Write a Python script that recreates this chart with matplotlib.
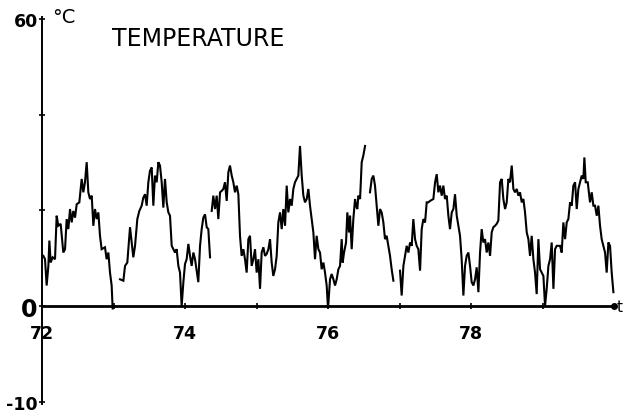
import numpy as np
import matplotlib
matplotlib.use("Agg")
import matplotlib.pyplot as plt

# temperature record (years 72..80, deg C)
# gaps in the record are marked with None
years = [
    72.019, 72.042, 72.065, 72.089, 72.103, 72.121, 72.149, 72.182, 72.205, 72.228,
    72.261, 72.298, 72.322, 72.345, 72.368, 72.392, 72.415, 72.438, 72.462, 72.485,
    72.522, 72.555, 72.578, 72.601, 72.625, 72.648, 72.671, 72.695, 72.718, 72.741,
    72.765, 72.788, 72.811, 72.834, 72.881, 72.904, 72.928, 72.951, 72.974, 72.988,
    None,
    73.091, 73.138, 73.161, 73.193, 73.231, 73.254, 73.277, 73.301, 73.333, 73.361,
    73.394, 73.417, 73.441, 73.464, 73.487, 73.510, 73.534, 73.557, 73.580, 73.604,
    73.627, 73.650, 73.674, 73.697, 73.720, 73.744, 73.767, 73.790, 73.814, 73.837,
    73.860, 73.883, 73.907, 73.930, 73.953, 73.977, 74.000, 74.023, 74.047, 74.070,
    74.093, 74.117, 74.140, 74.163, 74.186, 74.210, 74.233, 74.256, 74.280, 74.303,
    74.326, 74.350,
    None,
    74.373, 74.396, 74.420, 74.443, 74.466, 74.490, 74.513, 74.536, 74.559, 74.583,
    74.606, 74.629, 74.653, 74.676, 74.699, 74.723, 74.746, 74.769, 74.792, 74.816,
    74.839, 74.862, 74.886, 74.909, 74.932, 74.956, 74.979, 75.002, 75.026, 75.049,
    75.072, 75.096, 75.119, 75.142, 75.166, 75.189, 75.212, 75.235, 75.259, 75.282,
    75.305, 75.329, 75.352, 75.375, 75.399, 75.422, 75.445, 75.469, 75.492, 75.515,
    75.538, 75.562, 75.585, 75.608, 75.632, 75.655, 75.678, 75.702, 75.725, 75.748,
    75.772, 75.795, 75.818, 75.841, 75.865, 75.888, 75.911, 75.935, 75.958, 75.981,
    76.000, 76.028, 76.051, 76.075, 76.098, 76.121, 76.145, 76.168, 76.191, 76.205,
    76.224, 76.252, 76.270, 76.294, 76.308, 76.331, 76.354, 76.378, 76.392, 76.410,
    76.424, 76.448, 76.471, 76.494, 76.518,
    None,
    76.587, 76.611, 76.634, 76.657, 76.680, 76.704, 76.727, 76.750, 76.774, 76.797,
    76.820, 76.844, 76.867, 76.890, 76.914,
    None,
    77.007, 77.030, 77.054, 77.077, 77.100, 77.124, 77.147, 77.170, 77.193, 77.217,
    77.240, 77.263, 77.287, 77.310, 77.333, 77.357, 77.380, 77.403, 77.427, 77.473,
    77.497, 77.520, 77.543, 77.566, 77.590, 77.613, 77.636, 77.660, 77.683, 77.706,
    77.730, 77.753, 77.776, 77.800, 77.823, 77.846, 77.869, 77.893, 77.916, 77.939,
    77.963, 77.986, 78.009, 78.033, 78.056, 78.079, 78.103, 78.126, 78.149, 78.172,
    78.196, 78.219, 78.242, 78.266, 78.289, 78.312, 78.336, 78.359, 78.382, 78.406,
    78.429, 78.452, 78.476, 78.499, 78.522, 78.545, 78.569, 78.592, 78.615, 78.639,
    78.662, 78.685, 78.709, 78.732, 78.755, 78.779, 78.802, 78.825, 78.848, 78.872,
    78.895, 78.918, 78.942, 78.965, 78.988, 79.012, 79.035, 79.058, 79.082, 79.105,
    79.128, 79.152, 79.175, 79.198, 79.245, 79.268, 79.291, 79.315, 79.338, 79.361,
    79.385, 79.408, 79.431, 79.455, 79.478, 79.501, 79.524, 79.548, 79.571, 79.585,
    79.604, 79.632, 79.664, 79.688, 79.711, 79.734, 79.758, 79.781, 79.804, 79.827,
    79.851, 79.874, 79.897, 79.921, 79.944, 79.967, 79.991,
]

temps = [
    10.5, 9.8, 4.3, 8.4, 13.7, 9.1, 10.2, 9.8, 18.9, 16.8,
    17.2, 11.2, 11.9, 18.2, 16.1, 20.3, 17.5, 19.9, 18.5, 21.3,
    21.7, 26.6, 23.8, 25.9, 30.1, 23.8, 22.4, 23.1, 16.8, 20.3,
    18.2, 19.6, 14.7, 11.9, 12.3, 9.8, 11.2, 7.0, 4.3, -0.5,
    None,
    5.6, 5.3, 8.4, 9.1, 16.5, 13.3, 10.2, 12.6, 18.2, 19.9,
    21.0, 22.7, 23.4, 21.0, 25.9, 28.3, 29.0, 21.0, 27.3, 25.9,
    30.1, 29.4, 25.9, 20.6, 26.6, 21.7, 19.6, 18.9, 12.6, 11.9,
    11.2, 11.9, 8.4, 7.0, 0.0, 5.0, 8.8, 9.8, 13.0, 10.5,
    8.4, 11.2, 9.8, 7.4, 5.0, 12.6, 16.1, 18.5, 19.2, 16.5,
    16.1, 10.2,
    None,
    19.9, 23.1, 20.3, 23.1, 18.2, 23.8, 24.1, 24.5, 25.9, 22.0,
    28.0, 29.4, 27.3, 25.9, 23.8, 25.2, 23.4, 14.7, 10.5, 11.9,
    9.8, 7.0, 14.0, 14.7, 8.4, 9.8, 11.9, 7.0, 9.8, 3.6,
    11.2, 12.3, 10.5, 10.9, 11.9, 14.0, 9.1, 6.3, 7.7, 10.5,
    17.5, 19.6, 16.1, 20.3, 16.8, 25.2, 19.6, 22.4, 21.0, 24.5,
    25.9, 26.6, 27.3, 33.5, 27.3, 23.1, 21.7, 22.4, 24.5, 21.0,
    18.2, 15.4, 9.8, 14.7, 11.9, 11.2, 7.7, 9.1, 7.0, 4.3,
    -0.5, 5.6, 6.7, 5.6, 4.3, 5.6, 7.7, 8.4, 14.0, 9.1,
    11.2, 13.3, 19.6, 15.4, 18.9, 11.9, 18.2, 22.4, 21.0, 20.3,
    23.1, 22.4, 30.1, 31.5, 33.5,
    None,
    23.8, 26.6, 27.3, 25.2, 21.0, 16.8, 20.3, 19.6, 17.5, 14.0,
    14.7, 12.6, 10.5, 7.7, 5.3,
    None,
    7.4, 2.2, 8.4, 10.5, 12.6, 11.2, 13.3, 12.6, 18.2, 14.0,
    12.6, 11.9, 7.4, 16.1, 18.2, 17.5, 21.7, 21.7, 22.0, 22.4,
    25.9, 27.6, 23.8, 25.2, 23.1, 25.2, 22.4, 23.1, 18.9, 16.1,
    19.6, 20.3, 23.4, 18.9, 16.8, 14.7, 9.8, 2.2, 8.4, 10.5,
    11.2, 8.4, 5.0, 4.3, 5.6, 8.1, 2.9, 11.2, 16.1, 13.3,
    14.0, 11.2, 13.3, 10.5, 15.4, 16.5, 16.8, 17.2, 17.9, 25.9,
    26.6, 22.4, 20.3, 21.7, 26.6, 25.9, 29.4, 24.5, 23.8, 24.5,
    23.1, 23.8, 21.7, 22.4, 19.6, 15.4, 14.0, 10.5, 14.7, 9.8,
    7.0, 2.5, 14.0, 7.7, 7.0, 6.3, 0.0, 3.6, 8.4, 9.8,
    13.3, 3.6, 11.9, 12.6, 12.6, 11.2, 17.5, 14.0, 17.5, 18.2,
    21.7, 21.0, 25.2, 25.9, 20.3, 24.5, 25.9, 27.3, 26.6, 31.1,
    25.9, 25.9, 21.7, 23.8, 21.0, 21.0, 18.9, 21.0, 16.8, 14.0,
    12.6, 11.2, 7.0, 13.3, 12.6, 7.0, 2.9,
]

x_labels = [72, 74, 76, 78]
x_minor = [73, 75, 77, 79]
y_ticks = [-20, 0, 20, 40, 60]
y_labels = ["-10", "0", "", "", "60"]

x = np.array([np.nan if v is None else v for v in years])
y = np.array([np.nan if v is None else v for v in temps])

fig = plt.figure(figsize=(6.25, 4.14), dpi=100)
ax = fig.add_axes([0.0672, 0.0217, 0.921, 0.935])

ax.plot(x, y, color="black", lw=1.5, solid_joinstyle="miter")

ax.set_xlim(72, 80.05)
ax.set_ylim(-20.5, 60.5)

for s in ["top", "right"]:
    ax.spines[s].set_visible(False)
ax.spines["left"].set_position(("data", 72))
ax.spines["left"].set_linewidth(1.4)
ax.spines["bottom"].set_position(("data", 0))
ax.spines["bottom"].set_linewidth(2.0)
ax.spines["bottom"].set_bounds(72, 80)
ax.plot([80], [0], "o", color="black", ms=4, clip_on=False)

ax.set_xticks(x_labels)
ax.set_xticklabels([str(v) for v in x_labels], fontweight="bold")
ax.set_xticks(x_minor, minor=True)
ax.tick_params(axis="x", which="both", direction="inout", length=4, width=1.2,
               pad=11, labelsize=12.5)
ax.set_yticks(y_ticks)
ax.set_yticklabels(y_labels, fontweight="bold")
ax.tick_params(axis="y", direction="inout", length=4, width=1.2, pad=1, labelsize=12.5)
for lab in ax.get_yticklabels():
    if lab.get_text() == "0":
        lab.set_fontsize(17)

ax.text(72.14, 60.5, "°C", fontsize=14, va="center", ha="left")
ax.text(72.98, 56.0, "TEMPERATURE", fontsize=17, va="center", ha="left")
ax.text(80.04, 0.0, "t", fontsize=11, va="center", ha="left", clip_on=False)

fig.savefig("out.png", dpi=100)
